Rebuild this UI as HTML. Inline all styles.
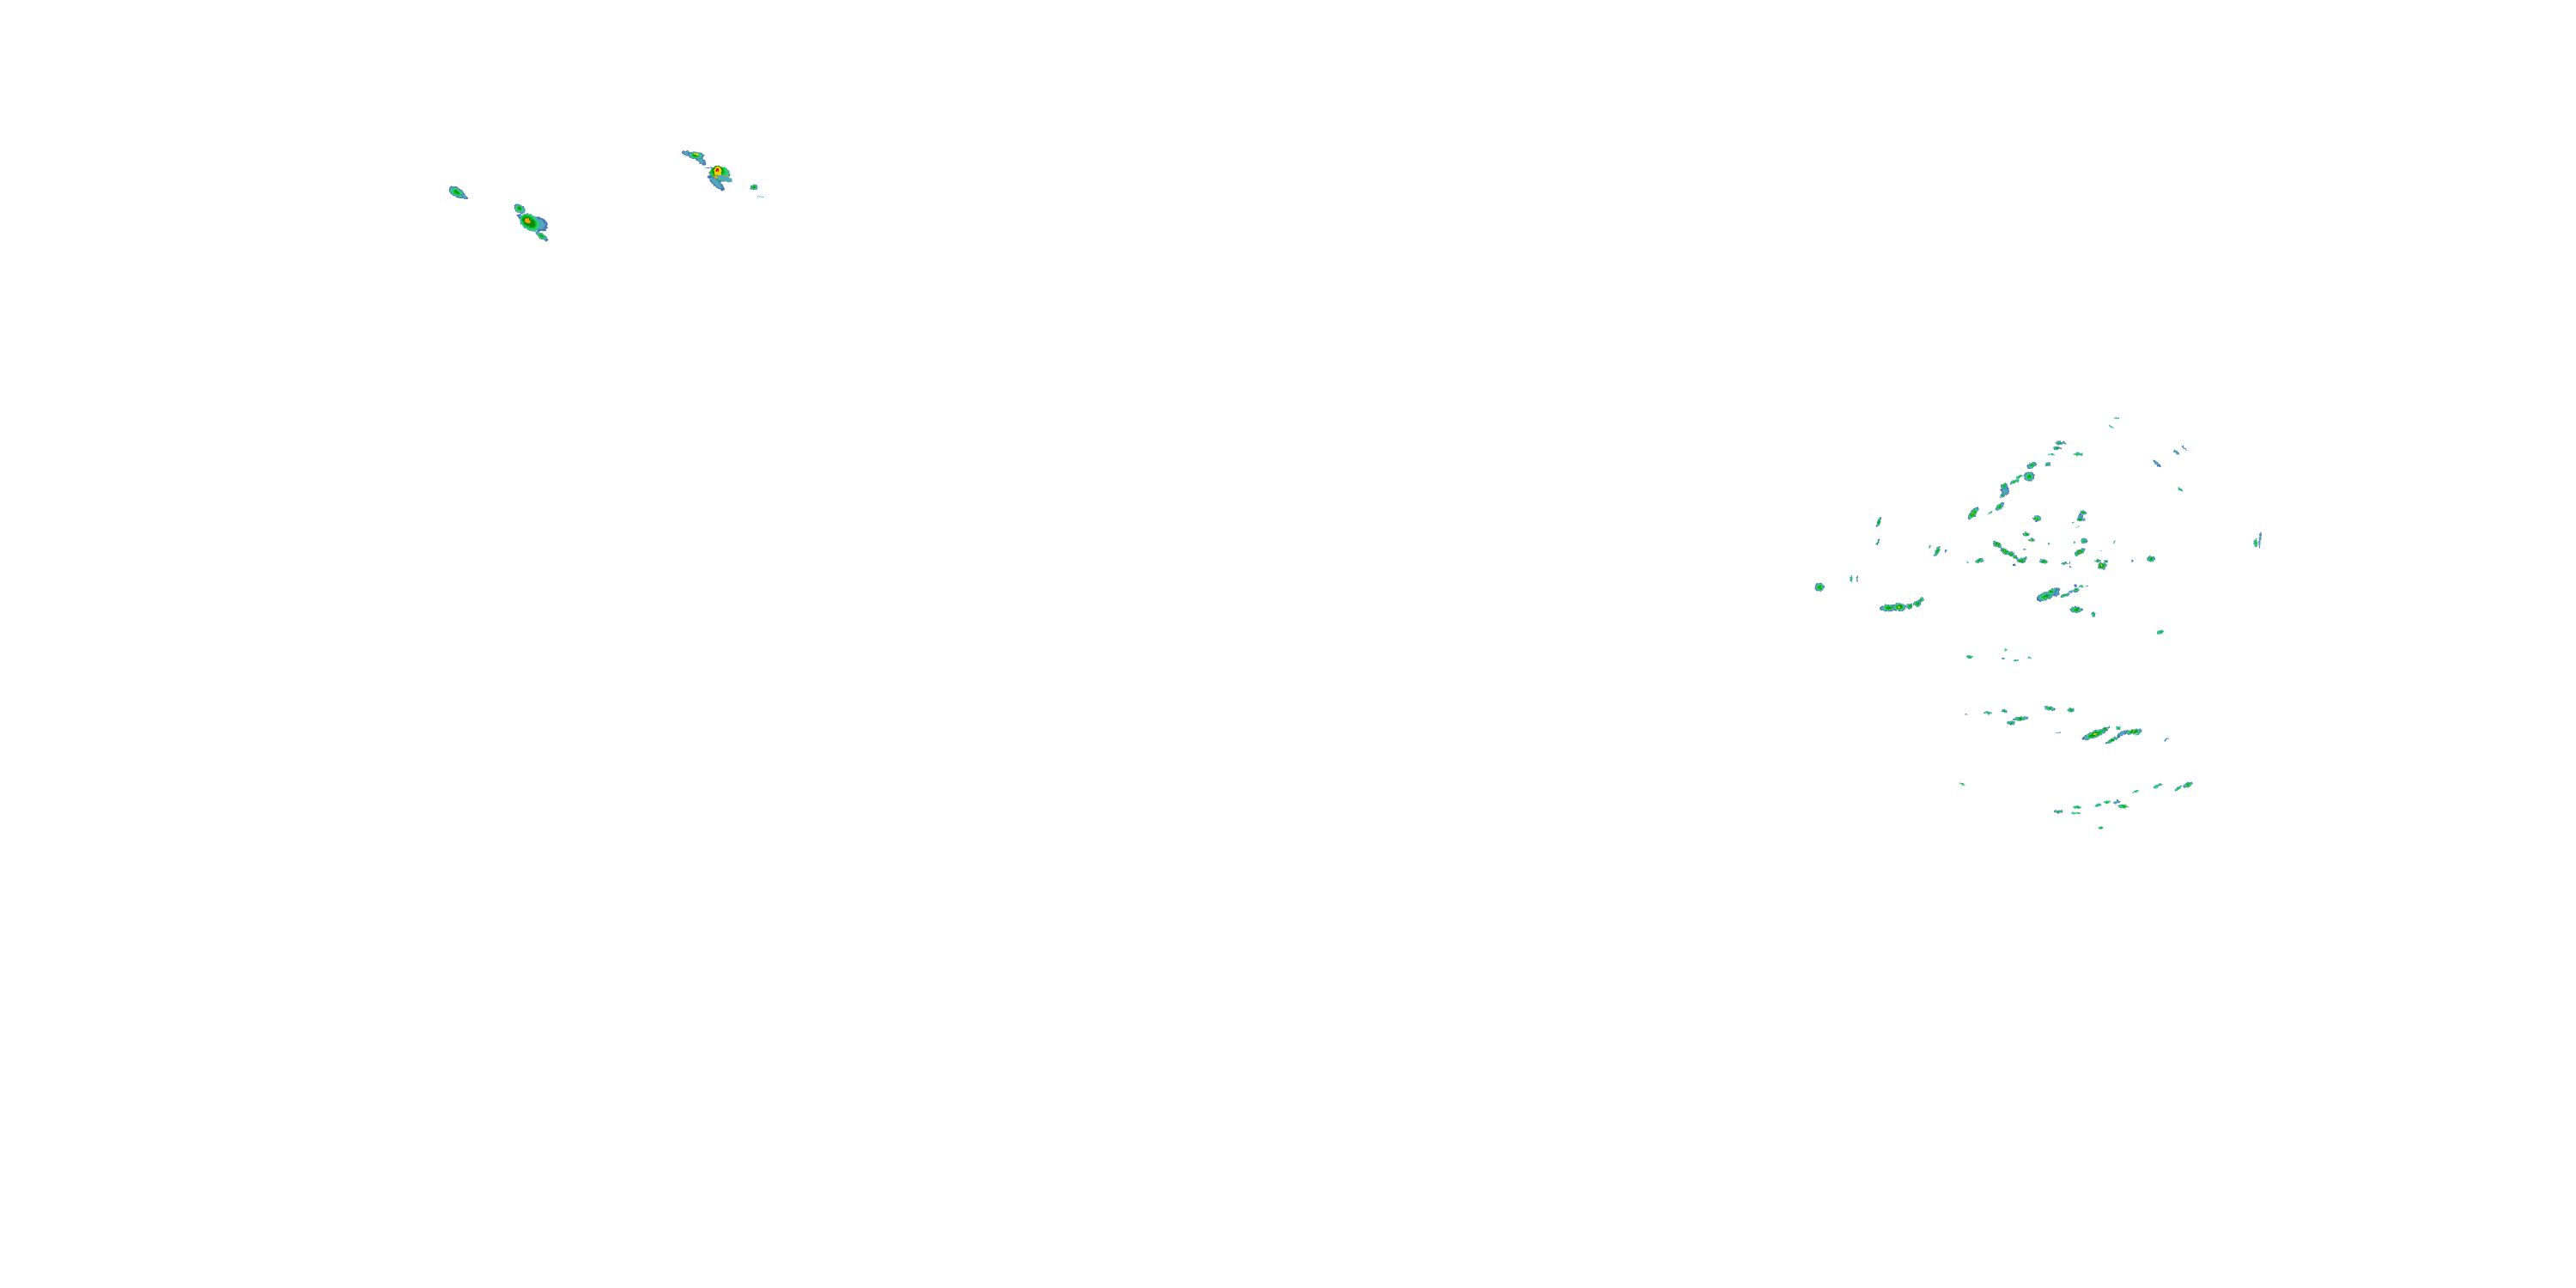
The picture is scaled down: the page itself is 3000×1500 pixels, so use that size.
<!DOCTYPE html>
<html>
<head>
<meta charset="utf-8">
<title>Radar</title>
<style>
html,body{margin:0;padding:0;background:#fff;width:3000px;height:1500px;overflow:hidden}
svg{display:block}
.b{fill:#4a76b4}.t{fill:#4fa9b8}.l{fill:#2fcf78}.g{fill:#0cc01c}.d{fill:#0a8a10}.y{fill:#f5d000}.o{fill:#f7a400}.r{fill:#e01010}
</style>
</head>
<body>
<svg width="3000" height="1500" viewBox="0 0 3000 1500" xmlns="http://www.w3.org/2000/svg" shape-rendering="crispEdges">
<defs>
<filter id="n" filterUnits="userSpaceOnUse" x="0" y="0" width="3000" height="1500" color-interpolation-filters="sRGB">
<feTurbulence type="fractalNoise" baseFrequency=".4" numOctaves="1" seed="3" result="w"/>
<feDisplacementMap in="SourceGraphic" in2="w" scale="4" xChannelSelector="R" yChannelSelector="G"/>
</filter>
<g id="s"><circle r="1.15" class="t"/><circle r=".85" class="l"/><circle r=".45" class="g"/></g>
<g id="m"><circle r="1.2" class="b"/><circle r="1.02" class="t"/><circle r=".8" class="l"/><circle r=".55" class="g"/><circle r=".28" class="d"/></g>
<g id="h"><circle r="1.2" class="b"/><circle r="1.05" class="t"/><circle r=".88" class="l"/><circle r=".68" class="g"/><circle r=".46" class="d"/><circle r=".22" class="y"/></g>
<g id="x"><circle r="1.15" class="b"/><circle r=".8" class="t"/></g>
</defs>
<rect width="3000" height="1500" fill="#fff"/>
<g filter="url(#n)">

<!-- upper-left cluster -->
<use href="#m" transform="translate(532,224) rotate(30) scale(9,4.5)"/>
<use href="#x" transform="translate(541,229) rotate(35) scale(4,1.5)"/>
<use href="#m" transform="translate(605,243) rotate(30) scale(6,4)"/>
<use href="#x" transform="translate(608,254) rotate(35) scale(6,2.5)"/>
<use href="#x" transform="translate(628,261) rotate(30) scale(9,7)"/>
<g transform="translate(617,259) rotate(35)">
<ellipse rx="13" ry="9" class="t"/><ellipse rx="12" ry="8" class="l"/><ellipse cx="-1" rx="10" ry="6.5" class="g"/><ellipse cx="-1" rx="8" ry="5" class="d"/><ellipse cx="-3" rx="4" ry="2.6" class="o"/>
</g>
<use href="#m" transform="translate(631,275) rotate(35) scale(7,2.6)"/>

<!-- upper-middle cluster -->
<use href="#x" transform="translate(801,179) rotate(15) scale(7,2.5)"/>
<use href="#x" transform="translate(815,186) rotate(40) scale(8,3)"/>
<use href="#m" transform="translate(810,181) rotate(5) scale(8,3.6)"/>
<rect x="809" y="179" width="5" height="2" class="y"/>
<g transform="translate(838,203)">
<ellipse rx="12" ry="9" class="b"/><ellipse cx="0" cy="-1" rx="11" ry="8" class="l"/>
<ellipse cx="-2" cy="-3" rx="8" ry="7" class="g"/><ellipse cx="-2" cy="-4" rx="6" ry="6" class="d"/>
<ellipse cx="-2" cy="-3" rx="4.5" ry="6" class="y"/><ellipse cx="2" cy="3" rx="9" ry="2" class="o"/>
<rect x="-4" y="-7" width="3" height="4" class="r"/>
</g>
<ellipse cx="844" cy="208" rx="10" ry="3" class="t" transform="rotate(20 844 208)"/>
<rect x="822" y="195" width="8" height="1" class="b"/><rect x="847" y="200" width="3" height="1" class="b"/>
<use href="#x" transform="translate(834,213) rotate(42) scale(11,3.6)"/>
<use href="#m" transform="translate(878,218) rotate(-10) scale(4,2.6)"/>
<rect x="882" y="228" width="4" height="1" class="t"/><rect x="886" y="229" width="3" height="1" class="l"/>

<!-- right cluster -->
<use href="#m" transform="translate(2188,608) rotate(-65) scale(5,1.7)"/>
<use href="#h" transform="translate(2298,598) rotate(-50) scale(7,3)"/>
<use href="#s" transform="translate(2318,597) rotate(-30) scale(3,1)"/>
<use href="#m" transform="translate(2329,590) rotate(-40) scale(5,2.5)"/>
<use href="#h" transform="translate(2372,604) scale(4,2.6)"/>
<use href="#x" transform="translate(2335,572) scale(4.5,4.5)"/>
<use href="#m" transform="translate(2334,566) scale(3.5,2.5)"/>
<use href="#m" transform="translate(2332,577) rotate(-40) scale(3.5,1.5)"/>
<use href="#s" transform="translate(2346,561) rotate(-30) scale(5,2)"/>
<use href="#s" transform="translate(2352,555) rotate(-25) scale(3.5,1.5)"/>
<use href="#m" transform="translate(2363,555) scale(5.2,4.4)"/>
<use href="#m" transform="translate(2366,542) rotate(-30) scale(5.2,2.6)"/>
<use href="#m" transform="translate(2385,541) scale(2.8,2.2)"/>
<use href="#s" transform="translate(2389,529) scale(3.2,1)"/>
<use href="#m" transform="translate(2396,522) scale(4,1.8)"/>
<use href="#m" transform="translate(2398,516) scale(3.2,2.2)"/>
<use href="#x" transform="translate(2402,516) scale(3,1.5)"/>
<use href="#s" transform="translate(2420,529) scale(5,1.6)"/>
<use href="#s" transform="translate(2465,487) rotate(10) scale(3.2,1)"/>
<use href="#s" transform="translate(2459,497) rotate(30) scale(3,1)"/>
<use href="#x" transform="translate(2512,540) rotate(40) scale(4.5,1.2)"/>
<use href="#x" transform="translate(2535,527) rotate(35) scale(3.8,1.3)"/>
<use href="#x" transform="translate(2544,522) rotate(42) scale(4,.8)"/>
<use href="#s" transform="translate(2539,570) rotate(35) scale(3.2,1)"/>
<use href="#m" transform="translate(2426,597) scale(3.2,2)"/>
<use href="#x" transform="translate(2423,601) scale(2,2)"/>
<use href="#m" transform="translate(2422,605) scale(3.2,2)"/>
<use href="#x" transform="translate(2426,605) scale(2,1.5)"/>
<rect x="2413" y="608" width="3" height="1" class="t"/><rect x="2418" y="613" width="3" height="1" class="l"/>

<use href="#m" transform="translate(2187,632) rotate(-70) scale(3,1.2)"/>
<use href="#s" transform="translate(2247,637) rotate(-70) scale(2,.9)"/>
<use href="#m" transform="translate(2256,642) rotate(-62) scale(6,1.8)"/>
<use href="#x" transform="translate(2266,642) rotate(-50) scale(1.6,.8)"/>
<rect x="2291" y="654" width="1" height="2" class="t"/>
<use href="#m" transform="translate(2305,653) rotate(-15) scale(4.5,2)"/>
<use href="#h" transform="translate(2326,634) rotate(35) scale(5,2.6)"/>
<use href="#h" transform="translate(2335,642) rotate(35) scale(5,2.6)"/>
<use href="#h" transform="translate(2342,645) rotate(30) scale(3.5,2.3)"/>
<use href="#h" transform="translate(2360,622) scale(3.2,2.3)"/>
<use href="#h" transform="translate(2366,629) scale(3.2,1.8)"/>
<use href="#s" transform="translate(2386,633) scale(1.5,.8)"/>
<rect x="2357" y="639" width="2" height="2" class="t"/>
<use href="#m" transform="translate(2347,649) rotate(30) scale(2.6,2)"/>
<use href="#h" transform="translate(2354,653) scale(4.4,2.8)"/>
<use href="#m" transform="translate(2359,650) scale(2.3,1.6)"/>
<rect x="2344" y="657" width="3" height="2" class="b"/>
<use href="#m" transform="translate(2380,654) rotate(8) scale(4.4,1.9)"/>
<use href="#m" transform="translate(2119,684) scale(4.6,4.4)"/>
<use href="#s" transform="translate(2156,674) scale(1.2,3.8)"/>
<use href="#x" transform="translate(2163,674) scale(.9,3.2)"/>
<use href="#m" transform="translate(2200,708) rotate(-3) scale(9,3.4)"/>
<use href="#h" transform="translate(2212,707) scale(6.5,4)"/>
<use href="#m" transform="translate(2224,706) scale(2.8,2.8)"/>
<use href="#m" transform="translate(2233,703) scale(3.6,2.8)"/>
<use href="#m" transform="translate(2237,699) rotate(-40) scale(3.5,2)"/>
<use href="#m" transform="translate(2383,694) rotate(-22) scale(10,4)"/>
<use href="#m" transform="translate(2389,689) rotate(-30) scale(6,2.5)"/>
<use href="#x" transform="translate(2396,690) rotate(-70) scale(5,2)"/>

<use href="#m" transform="translate(2427,630) scale(3,2.8)"/>
<rect x="2415" y="631" width="2" height="2" class="t"/>
<rect x="2461" y="630" width="2" height="3" class="t"/>
<use href="#h" transform="translate(2422,643) rotate(-30) scale(6,2.4)"/>
<use href="#s" transform="translate(2418,647) scale(1.5,1.2)"/>
<use href="#m" transform="translate(2404,656) scale(3,1.3)"/>
<use href="#h" transform="translate(2448,659) scale(4.4,3.5)"/>
<use href="#m" transform="translate(2443,653) scale(2.6,1.5)"/>
<use href="#m" transform="translate(2453,654) scale(2,1.4)"/>
<rect x="2446" y="641" width="1" height="1" class="b"/>
<rect x="2409" y="655" width="2" height="1" class="b"/><rect x="2410" y="660" width="2" height="1" class="b"/>
<use href="#x" transform="translate(2483,653) scale(1.1,1.6)"/>
<use href="#m" transform="translate(2505,651) scale(4,2.8)"/>
<use href="#s" transform="translate(2627,632) scale(2.2,4.5)"/>
<use href="#x" transform="translate(2632,629) rotate(3) scale(1.1,8)"/>
<use href="#m" transform="translate(2418,687) scale(3,2.2)"/>
<use href="#s" transform="translate(2424,683) scale(2,1.2)"/>
<rect x="2416" y="681" width="2" height="2" class="b"/><rect x="2430" y="682" width="2" height="1" class="b"/>
<use href="#m" transform="translate(2405,693) rotate(-15) scale(4.5,1.6)"/>
<use href="#x" transform="translate(2412,689) rotate(-10) scale(3,.8)"/>
<use href="#h" transform="translate(2418,710) scale(5.8,3)"/>
<use href="#m" transform="translate(2438,715) scale(2.4,2.4)"/>
<use href="#s" transform="translate(2516,736) rotate(-15) scale(3.5,1.8)"/>

<use href="#s" transform="translate(2294,765) scale(3.6,1.6)"/>
<rect x="2335" y="755" width="3" height="3" class="l"/>
<use href="#x" transform="translate(2333,767) rotate(20) scale(1.6,.7)"/>
<use href="#s" transform="translate(2348,769) scale(3,1)"/>
<use href="#s" transform="translate(2363,766) scale(2,1)"/>
<use href="#x" transform="translate(2290,832) rotate(20) scale(1.6,.7)"/>
<use href="#s" transform="translate(2315,830) rotate(8) scale(4,1.6)"/>
<use href="#m" transform="translate(2334,828) rotate(20) scale(3,1.5)"/>
<use href="#m" transform="translate(2353,837) rotate(-5) scale(7.5,1.9)"/>
<use href="#m" transform="translate(2342,842) scale(4,2.2)"/>
<use href="#m" transform="translate(2387,825) rotate(15) scale(5.4,2)"/>
<use href="#h" transform="translate(2412,827) scale(3.2,2.3)"/>
<use href="#x" transform="translate(2397,853) scale(2.4,.6)"/>
<use href="#h" transform="translate(2440,855) rotate(-22) scale(13,3.2)"/>
<use href="#m" transform="translate(2452,849) rotate(-25) scale(4.5,1.6)"/>
<use href="#s" transform="translate(2467,848) scale(2.3,2.2)"/>
<use href="#m" transform="translate(2460,862) rotate(-25) scale(8,1.5)"/>
<use href="#x" transform="translate(2472,854) rotate(-25) scale(6,2.2)"/>
<use href="#h" transform="translate(2485,852) rotate(-8) scale(8.5,2.3)"/>
<use href="#s" transform="translate(2490,855) rotate(-30) scale(3.2,.7)"/>
<use href="#x" transform="translate(2523,861) rotate(-30) scale(2.7,.6)"/>

<use href="#s" transform="translate(2285,913) rotate(25) scale(3.2,1)"/>
<use href="#m" transform="translate(2397,945) scale(4.6,1.5)"/>
<use href="#s" transform="translate(2419,940) scale(4.5,1.4)"/>
<use href="#s" transform="translate(2418,947) scale(5,1.1)"/>
<use href="#s" transform="translate(2443,938) rotate(-12) scale(3.5,1.5)"/>
<use href="#s" transform="translate(2454,934) rotate(-12) scale(4,1.1)"/>
<use href="#x" transform="translate(2465,934) rotate(-10) scale(4.2,1.5)"/>
<use href="#s" transform="translate(2473,939) rotate(5) scale(5.6,1.9)"/>
<use href="#s" transform="translate(2487,922) rotate(-15) scale(3.6,.7)"/>
<use href="#s" transform="translate(2513,915) rotate(-20) scale(5,1.6)"/>
<use href="#s" transform="translate(2537,918) rotate(-35) scale(4.6,1.5)"/>
<use href="#m" transform="translate(2548,914) rotate(-30) scale(5,2.3)"/>
<use href="#s" transform="translate(2447,964) rotate(-12) scale(3.2,.8)"/>
</g>
</svg>
</body>
</html>
